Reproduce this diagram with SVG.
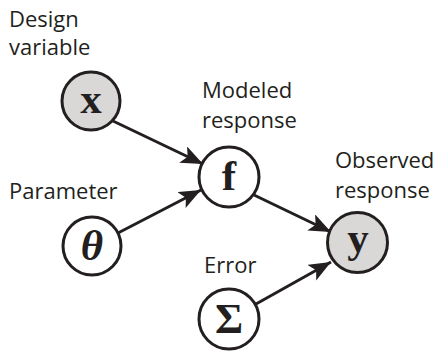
<svg xmlns="http://www.w3.org/2000/svg" width="438" height="352" viewBox="0 0 438 352">
<defs>
<style>
.lbl{font-family:"Open Sans","Noto Sans",sans-serif;font-size:22px;fill:#231f20}
.node circle{stroke:#231f20;stroke-width:3}
.sym{font-family:"Liberation Serif","DejaVu Serif",serif;font-weight:bold;font-size:43px;fill:#231f20;text-anchor:middle}
.edge{stroke:#231f20;stroke-width:3;fill:none;marker-end:url(#ah)}
</style>
<marker id="ah" markerUnits="userSpaceOnUse" markerWidth="24" markerHeight="20" refX="22" refY="9" orient="auto">
<path d="M0,0 L22,9 L0,18 L5,9 Z" fill="#231f20"/>
</marker>
</defs>
<rect width="438" height="352" fill="#fff"/>
<g id="labels">
<text class="lbl" x="9" y="27">Design</text>
<text class="lbl" x="9" y="55">variable</text>
<text class="lbl" x="202" y="98">Modeled</text>
<text class="lbl" x="202" y="128">response</text>
<text class="lbl" x="335" y="168">Observed</text>
<text class="lbl" x="335" y="198">response</text>
<text class="lbl" x="9" y="199">Parameter</text>
<text class="lbl" x="204" y="273">Error</text>
</g>
<g id="connectors">
<line class="edge" x1="113" y1="121" x2="203" y2="164"/>
<line class="edge" x1="118" y1="233" x2="201" y2="190"/>
<line class="edge" x1="254" y1="195" x2="331" y2="232"/>
<line class="edge" x1="256" y1="304" x2="331" y2="262"/>
</g>
<g id="node-x" class="node">
<circle cx="91" cy="101" r="29" fill="#d9d8d6"/>
<text class="sym" x="91" y="113">x</text>
</g>
<g id="node-f" class="node">
<circle cx="229" cy="177" r="30" fill="#fff"/>
<text class="sym" x="229" y="190">f</text>
</g>
<g id="node-y" class="node">
<circle cx="357.500" cy="242.500" r="30" fill="#d9d8d6"/>
<text class="sym" x="358" y="252">y</text>
</g>
<g id="node-theta" class="node">
<circle cx="92" cy="246" r="29" fill="#fff"/>
<text class="sym" x="92" y="260" font-style="italic">θ</text>
</g>
<g id="node-sigma" class="node">
<circle cx="229" cy="319" r="30" fill="#fff"/>
<text class="sym" x="229" y="333">Σ</text>
</g>
</svg>
